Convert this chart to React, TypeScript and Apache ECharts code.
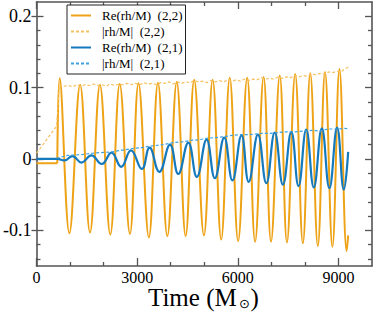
import React, { useEffect, useRef } from 'react';
import * as echarts from 'echarts';

// Re(rh/M) (2,2): extrema
const re22PreT = [0, 620];
const re22PreV = [-0.006, -0.006];
const re22PeakT = [690, 1300, 1890, 2480, 3040, 3620, 4180, 4700, 5250, 5760, 6280, 6770, 7250, 7710, 8160, 8600, 9030];
const re22PeakV = [0.113, 0.104, 0.104, 0.105, 0.106, 0.107, 0.108, 0.111, 0.111, 0.114, 0.114, 0.115, 0.117, 0.119, 0.120, 0.122, 0.126];
const re22TroughT = [980, 1595, 2200, 2785, 3350, 3900, 4445, 4990, 5505, 6010, 6515, 6990, 7465, 7940, 8385, 8820, 9245];
const re22TroughV = [-0.104, -0.103, -0.106, -0.105, -0.110, -0.108, -0.108, -0.107, -0.113, -0.115, -0.116, -0.116, -0.117, -0.118, -0.122, -0.123, -0.129];
const re22EndT = 9290;
const re22EndV = -0.107;

// |rh/M| (2,2)
const abs22T = [0, 600, 680, 820, 950, 1080, 1200, 1330, 1450, 1580, 1700, 1830, 1950, 2080, 2200, 2330, 2450, 2580, 2700, 2830, 2950, 3080, 3200, 3330, 3450, 3580, 3700, 3830, 3950, 4080, 4200, 4330, 4450, 4580, 4700, 4830, 4950, 5080, 5200, 5330, 5450, 5580, 5700, 5830, 5950, 6080, 6200, 6330, 6450, 6580, 6700, 6830, 6950, 7080, 7200, 7330, 7450, 7580, 7700, 7830, 7950, 8080, 8200, 8330, 8450, 8580, 8700, 8830, 8950, 9080, 9150, 9300];
const abs22V = [0.008, 0.046, 0.104, 0.102, 0.103, 0.101, 0.104, 0.102, 0.104, 0.103, 0.105, 0.103, 0.104, 0.102, 0.105, 0.103, 0.105, 0.104, 0.106, 0.104, 0.106, 0.104, 0.107, 0.105, 0.106, 0.104, 0.107, 0.106, 0.108, 0.105, 0.108, 0.106, 0.108, 0.107, 0.110, 0.108, 0.109, 0.107, 0.110, 0.108, 0.110, 0.108, 0.111, 0.109, 0.111, 0.109, 0.112, 0.110, 0.112, 0.111, 0.114, 0.112, 0.113, 0.112, 0.115, 0.113, 0.115, 0.114, 0.117, 0.115, 0.117, 0.116, 0.119, 0.118, 0.120, 0.119, 0.122, 0.121, 0.123, 0.122, 0.125, 0.129];

// Re(rh/M) (2,1)
const re21T = [0, 624, 830, 1070, 1340, 1635, 1945, 2235, 2525, 2815, 3140, 3370, 3660, 3980, 4225, 4525, 4780, 5070, 5315, 5595, 5840, 6110, 6325, 6600, 6850, 7100, 7345, 7595, 7810, 8040, 8265, 8505, 8730, 8960, 9160, 9290];
const re21V = [0, 0, -0.002, 0.004, -0.005, 0.005, -0.007, 0.009, -0.011, 0.012, -0.014, 0.016, -0.018, 0.020, -0.021, 0.023, -0.025, 0.027, -0.027, 0.030, -0.030, 0.033, -0.032, 0.034, -0.034, 0.037, -0.036, 0.038, -0.038, 0.041, -0.040, 0.043, -0.041, 0.044, -0.043, 0.010];

// |rh/M| (2,1)
const abs21T = [600, 930, 1310, 1650, 1930, 2250, 2500, 2920, 3150, 3400, 3750, 4090, 4350, 4590, 4850, 5080, 5330, 5570, 5820, 6070, 6320, 6720, 6960, 7200, 7450, 7710, 7950, 8210, 8450, 8690, 8950, 9200, 9290];
const abs21V = [0.001, 0.005, 0.006, 0.008, 0.009, 0.010, 0.012, 0.015, 0.016, 0.018, 0.020, 0.023, 0.024, 0.026, 0.027, 0.029, 0.030, 0.031, 0.033, 0.034, 0.034, 0.036, 0.036, 0.037, 0.038, 0.038, 0.039, 0.040, 0.039, 0.042, 0.042, 0.043, 0.042];

const xMajor = [0, 3000, 6000, 9000];
const xMinor = [1000, 2000, 4000, 5000, 7000, 8000];
const yMajor = [-0.1, 0, 0.1, 0.2];
const yMinor = [-0.14, -0.12, -0.08, -0.06, -0.04, -0.02, 0.02, 0.04, 0.06, 0.08, 0.12, 0.14, 0.16, 0.18];

const names = ['Re(rh/M)  (2,2)', '|rh/M|  (2,2)', 'Re(rh/M)  (2,1)', '|rh/M|  (2,1)'];

const zip = (t: number[], v: number[]) => t.map((x, i) => [x, v[i]]);

export default function App() {
  const ref = useRef<HTMLDivElement>(null);
  useEffect(() => {
    if (!ref.current) return;
    const chart = echarts.init(ref.current, undefined, { renderer: 'svg' });
    const font = '"Liberation Serif", "Times New Roman", serif';
    const axisColor = '#555';
    const orange = '#EEA316';
    const orangeLight = '#F6C160';
    const blue = '#1479BD';
    const blueLight = '#3FA2E0';

    const re22: number[][] = [[re22PreT[1], re22PreV[1]]];
    re22PeakT.forEach((t, i) => {
      re22.push([t, re22PeakV[i]]);
      re22.push([re22TroughT[i], re22TroughV[i]]);
    });
    re22.push([re22EndT, re22EndV]);

    const xBase = { type: 'value', min: 0, max: 10000, splitLine: { show: false } } as any;
    const yBase = { type: 'value', min: -0.15, max: 0.22, splitLine: { show: false } } as any;
    const tick = (len: number, inside: boolean, vals: number[]) => ({
      show: true, inside, length: len, customValues: vals,
      lineStyle: { color: axisColor, width: 1.3 },
    });
    const noLabel = { show: false };
    const line = (show: boolean) => ({ show, onZero: false, lineStyle: { color: axisColor, width: 1.6 } });

    chart.setOption({
      animation: false,
      backgroundColor: '#fff',
      grid: { left: 36, right: 2, top: 2, bottom: 50, containLabel: false },
      xAxis: [
        {
          ...xBase, position: 'bottom', axisLine: line(true), axisTick: tick(8, true, xMajor),
          axisLabel: { show: true, customValues: xMajor, margin: 3, fontSize: 16, fontFamily: font, color: '#000', formatter: (v: number) => String(v) },
        },
        { ...xBase, position: 'bottom', axisLine: line(false), axisTick: tick(4, true, xMinor), axisLabel: noLabel },
        { ...xBase, position: 'top', axisLine: line(true), axisTick: tick(7, true, xMajor), axisLabel: noLabel },
        { ...xBase, position: 'top', axisLine: line(false), axisTick: tick(4, true, xMinor), axisLabel: noLabel },
      ],
      yAxis: [
        {
          ...yBase, position: 'left', axisLine: line(true), axisTick: tick(5, false, yMajor),
          axisLabel: { show: true, customValues: yMajor, margin: 5, fontSize: 18, fontFamily: font, color: '#000', formatter: (v: number) => (Math.abs(v) < 1e-9 ? '0' : v.toFixed(1)) },
        },
        { ...yBase, position: 'left', axisLine: line(false), axisTick: tick(7, true, yMajor), axisLabel: noLabel },
        { ...yBase, position: 'left', axisLine: line(false), axisTick: tick(4, true, yMinor), axisLabel: noLabel },
        { ...yBase, position: 'right', axisLine: line(true), axisTick: tick(7, true, yMajor), axisLabel: noLabel },
        { ...yBase, position: 'right', axisLine: line(false), axisTick: tick(4, true, yMinor), axisLabel: noLabel },
      ],
      legend: {
        data: names, orient: 'vertical', left: 67, top: 5,
        itemWidth: 20, itemHeight: 10, itemGap: 3,
        padding: [4, 3, 4, 3],
        backgroundColor: '#fff', borderColor: '#222', borderWidth: 1, borderRadius: 0,
        itemStyle: { opacity: 0 },
        textStyle: { fontFamily: font, fontSize: 13, color: '#000', padding: [0, 0, 0, 6] },
        selectedMode: false, z: 10,
      },
      series: [
        {
          name: 'pre22', type: 'line', data: zip(re22PreT, re22PreV), symbol: 'none',
          lineStyle: { color: orange, width: 2 }, itemStyle: { color: orange },
        },
        {
          name: names[0], type: 'line', data: re22, symbol: 'none', smooth: 0.4,
          lineStyle: { color: orange, width: 2 }, itemStyle: { color: orange },
        },
        {
          name: names[1], type: 'line', data: zip(abs22T, abs22V), symbol: 'none',
          lineStyle: { color: orangeLight, width: 1.2, type: [3, 2] }, itemStyle: { color: orangeLight },
        },
        {
          name: names[2], type: 'line', data: zip(re21T, re21V), symbol: 'none', smooth: 0.45,
          lineStyle: { color: blue, width: 2.2 }, itemStyle: { color: blue },
        },
        {
          name: names[3], type: 'line', data: zip(abs21T, abs21V), symbol: 'none',
          lineStyle: { color: blueLight, width: 1.2, type: [3, 2] }, itemStyle: { color: blueLight },
        },
      ],
      graphic: [
        { type: 'text', x: 148, y: 297, style: { text: 'Time (M', font: '25px "Liberation Serif"', fill: '#000', align: 'left', verticalAlign: 'middle', textAlign: 'left', textVerticalAlign: 'middle' } },
        { type: 'text', x: 244.5, y: 303, style: { text: '⊙', font: '13px "DejaVu Sans"', fill: '#000', align: 'center', verticalAlign: 'middle', textAlign: 'center', textVerticalAlign: 'middle' } },
        { type: 'text', x: 250.5, y: 297, style: { text: ')', font: '25px "Liberation Serif"', fill: '#000', align: 'left', verticalAlign: 'middle', textAlign: 'left', textVerticalAlign: 'middle' } },
      ],
    } as any);
    return () => chart.dispose();
  }, []);
  return <div ref={ref} style={{ position: 'fixed', left: 0, top: 0, width: 374, height: 316 }} />;
}
